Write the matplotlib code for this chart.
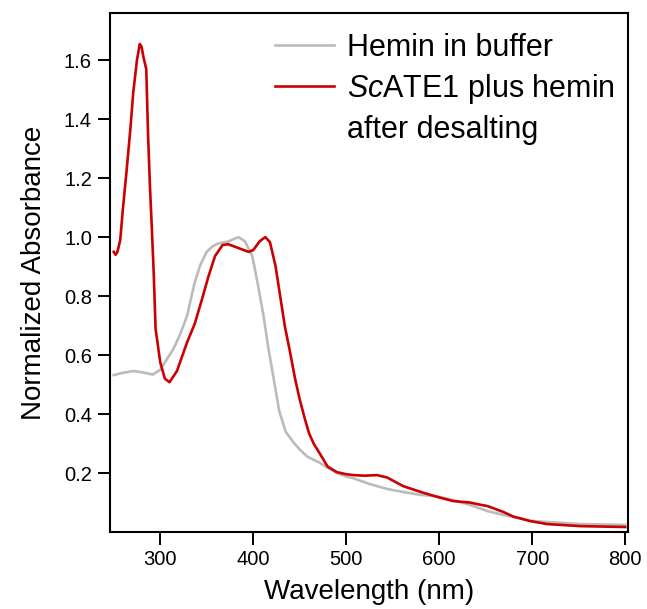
import matplotlib
matplotlib.use("Agg")
import matplotlib.pyplot as plt
from matplotlib.lines import Line2D

# Hemin in buffer (grey trace)
hemin_nm = [250, 260, 271, 280, 292, 300, 307, 314, 320, 325, 329, 333, 337,
            343, 350, 356, 362, 373, 384, 391, 399, 405, 411, 416, 422, 428,
            435, 443, 450, 458, 465, 472, 480, 490, 500, 507, 525, 544, 561,
            580, 598, 615, 633, 652, 669, 687, 698, 716, 752, 800]
hemin_abs = [0.532, 0.540, 0.546, 0.542, 0.534, 0.550, 0.585, 0.620, 0.660,
             0.700, 0.735, 0.790, 0.845, 0.905, 0.950, 0.968, 0.978, 0.985,
             1.000, 0.986, 0.936, 0.840, 0.735, 0.630, 0.520, 0.410, 0.340,
             0.305, 0.280, 0.256, 0.245, 0.234, 0.218, 0.200, 0.188, 0.183,
             0.163, 0.146, 0.136, 0.126, 0.121, 0.108, 0.092, 0.071, 0.058,
             0.047, 0.038, 0.034, 0.027, 0.024]

# ScATE1 plus hemin after desalting (red trace)
ate1_nm = [250, 252, 254, 257, 260, 264, 268, 271, 275, 278, 280, 282, 285,
           287, 289, 291, 293, 295, 300, 305, 310, 318, 329, 337, 345, 352,
           359, 367, 373, 384, 395, 400, 407, 413, 418, 424, 429, 434, 439,
           445, 450, 455, 460, 465, 472, 480, 490, 500, 508, 520, 533, 544,
           561, 580, 598, 615, 633, 645, 652, 669, 680, 698, 716, 752, 800]
ate1_abs = [0.950, 0.940, 0.950, 0.990, 1.100, 1.230, 1.370, 1.490, 1.600,
            1.655, 1.645, 1.610, 1.570, 1.340, 1.170, 1.030, 0.880, 0.690,
            0.576, 0.520, 0.508, 0.546, 0.644, 0.705, 0.790, 0.868, 0.936,
            0.973, 0.976, 0.963, 0.950, 0.956, 0.986, 1.000, 0.983, 0.902,
            0.800, 0.698, 0.620, 0.520, 0.450, 0.390, 0.335, 0.300, 0.264,
            0.222, 0.203, 0.196, 0.193, 0.191, 0.193, 0.185, 0.156, 0.136,
            0.119, 0.105, 0.100, 0.092, 0.088, 0.068, 0.052, 0.037, 0.027,
            0.020, 0.017]

x_ticks = [300, 400, 500, 600, 700, 800]
y_ticks = [0.2, 0.4, 0.6, 0.8, 1.0, 1.2, 1.4, 1.6]

plt.rcParams['font.family'] = 'Liberation Sans'
plt.rcParams['mathtext.fontset'] = 'custom'
plt.rcParams['mathtext.it'] = 'Liberation Sans:italic'
plt.rcParams['mathtext.rm'] = 'Liberation Sans'

fig = plt.figure(figsize=(6.47, 6.09), dpi=100)
ax = fig.add_axes([0.170, 0.1264, 0.8006, 0.8523])

grey = '#BBBBBB'
red = '#CC0000'
ax.plot(hemin_nm, hemin_abs, color=grey, lw=1.9)
ax.plot(ate1_nm, ate1_abs, color=red, lw=1.9)

ax.set_xlim(246, 803)
ax.set_ylim(0, 1.76)
ax.set_xticks(x_ticks)
ax.set_yticks(y_ticks)
ax.set_yticklabels([f"{v:.1f}" for v in y_ticks])
ax.tick_params(direction='out', length=9, width=1.4, labelsize=14.5, pad=4)
for s in ax.spines.values():
    s.set_linewidth(1.5)

ax.set_xlabel('Wavelength (nm)', fontsize=20, labelpad=7)
ax.set_ylabel('Normalized Absorbance', fontsize=20, labelpad=12)

handles = [Line2D([], [], color=grey, lw=1.9),
           Line2D([], [], color=red, lw=1.9),
           Line2D([], [], color='none')]
labels = ['Hemin in buffer', r'$\mathit{Sc}$ATE1 plus hemin', 'after desalting']
ax.legend(handles, labels, loc='upper left', bbox_to_anchor=(0.318, 0.962),
          frameon=False, fontsize=22, handlelength=1.95, handletextpad=0.42,
          borderpad=0, borderaxespad=0, labelspacing=0.3)

fig.savefig('out.png', dpi=100)
